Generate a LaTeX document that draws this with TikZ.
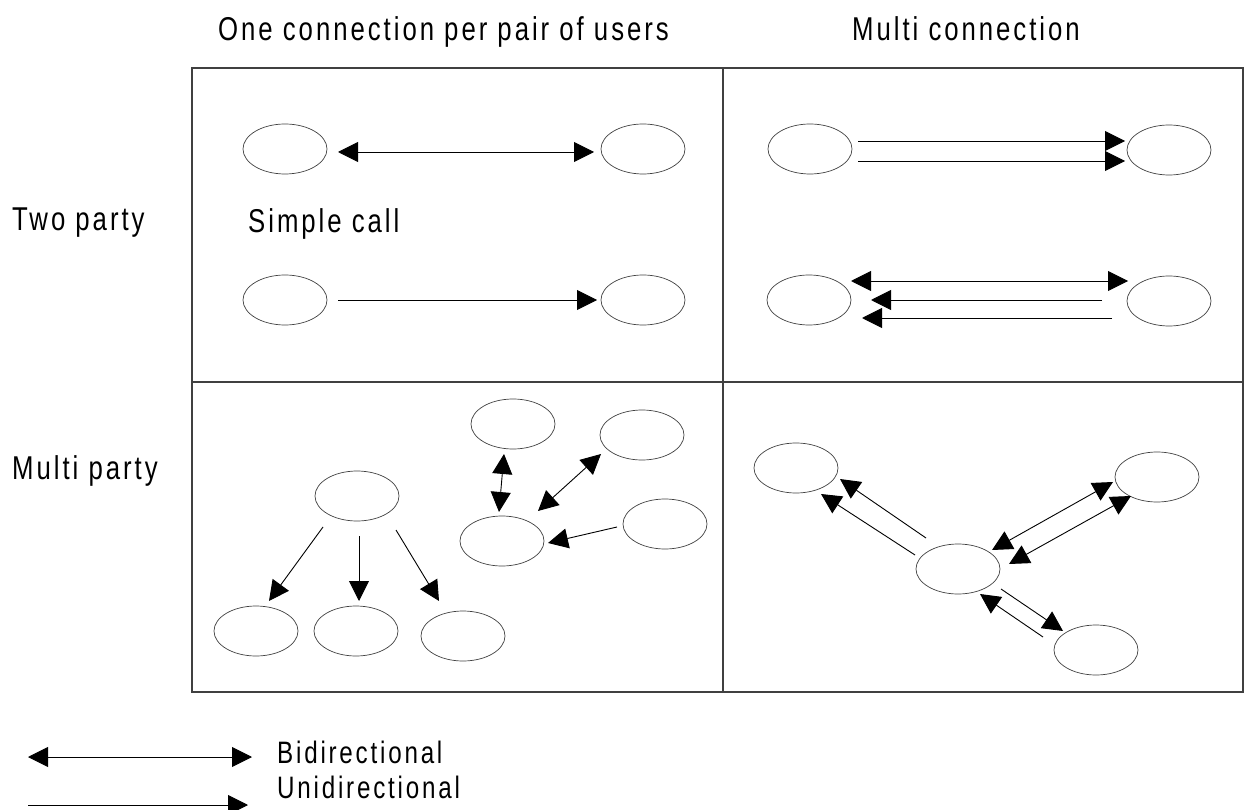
\documentclass[tikz,border=0pt]{standalone}
\usepackage{fontspec}
\setmainfont{Liberation Sans}
\newfontfamily\labfont[FakeStretch=0.78,LetterSpace=9]{Liberation Sans}
\usetikzlibrary{arrows.meta,shapes.geometric}

\begin{document}
\begin{tikzpicture}[x=1pt,y=-1pt,
  user/.style={draw=black!75, line width=0.7pt, ellipse,
    minimum width=84pt, minimum height=50pt, inner sep=0pt},
  link/.style={line width=0.9pt},
  uni/.style={link, -{Triangle[length=20pt,width=20pt]}},
  bi/.style={link, {Triangle[length=20pt,width=20pt]}-{Triangle[length=20pt,width=20pt]}},
  lbl/.style={anchor=base west, inner sep=0pt,
    font={\labfont\fontsize{33}{38}\selectfont}},
  key/.style={anchor=base west, inner sep=0pt,
    font={\labfont\fontsize{31}{35}\selectfont}},
  grid/.style={line width=1.4pt, draw=black!75}]

\useasboundingbox (0,0) rectangle (1245,810);

% table frame
\draw[grid] (192,68) rectangle (1243,692);
\draw[grid] (723,68) -- (723,692);
\draw[grid] (192,382) -- (1243,382);

% headings
\node[lbl] (h1) at (218,41) {One connection per pair of users};
\node[lbl] (h2) at (852,41) {Multi connection};
\node[lbl] (r1) at (12,231) {Two party};
\node[lbl] (r2) at (12,479) {Multi party};
\node[lbl] (sc) at (248,233) {Simple call};

% two party, one connection
\node[user] (a1) at (285,149) {};
\node[user] (a2) at (643,149) {};
\node[user] (a3) at (285,300) {};
\node[user] (a4) at (643,300) {};
\draw[bi]  ([shift={(53,3)}]a1.center) -- ([shift={(-49,3)}]a2.center);
\draw[uni] ([shift={(53,0)}]a3.center) -- ([shift={(-46,0)}]a4.center);

% two party, multi connection
\node[user] (b1) at (810,149) {};
\node[user] (b2) at (1169,150) {};
\node[user] (b3) at (809,300) {};
\node[user] (b4) at (1169,301) {};
\draw[uni] ([shift={(48,-8)}]b1.center) -- ([shift={(-44,-9)}]b2.center);
\draw[uni] ([shift={(48,12)}]b1.center) -- ([shift={(-44,11)}]b2.center);
\draw[bi]  ([shift={(42,-19)}]b3.center) -- ([shift={(-41,-20)}]b4.center);
\draw[uni] ([shift={(-67,-1)}]b4.center) -- ([shift={(62,0)}]b3.center);
\draw[uni] ([shift={(-57,17)}]b4.center) -- ([shift={(53,18)}]b3.center);

% multi party, one connection per pair
\node[user] (c0) at (357,496) {};
\node[user] (c1) at (256,631) {};
\node[user] (c2) at (356,631) {};
\node[user] (c3) at (463,636) {};
\draw[uni] ([shift={(-34,31)}]c0.center) -- ([shift={(13,-30)}]c1.center);
\draw[uni] ([shift={(2,40)}]c0.center) -- ([shift={(3,-30)}]c2.center);
\draw[uni] ([shift={(39,34)}]c0.center) -- ([shift={(-24,-35)}]c3.center);

\node[user] (d1) at (513,424) {};
\node[user] (d2) at (642,435) {};
\node[user] (d3) at (502,541) {};
\node[user] (d4) at (665,524) {};
\draw[bi]  ([shift={(-9,30)}]d1.center) -- ([shift={(-3,-29)}]d3.center);
\draw[bi]  ([shift={(-41,19)}]d2.center) -- ([shift={(36,-30)}]d3.center);
\draw[uni] ([shift={(-48,3)}]d4.center) -- ([shift={(46,2)}]d3.center);

% multi party, multi connection
\node[user] (f0) at (958,569) {};
\node[user] (f1) at (796,468) {};
\node[user] (f2) at (1157,477) {};
\node[user] (f3) at (1096,650) {};
\draw[uni] ([shift={(-32,-31)}]f0.center) -- ([shift={(44,11)}]f1.center);
\draw[uni] ([shift={(-43,-14)}]f0.center) -- ([shift={(25,26)}]f1.center);
\draw[bi]  ([shift={(34,-19)}]f0.center) -- ([shift={(-44,5)}]f2.center);
\draw[bi]  ([shift={(51,-5)}]f0.center) -- ([shift={(-26,19)}]f2.center);
\draw[uni] ([shift={(43,20)}]f0.center) -- ([shift={(-33,-19)}]f3.center);
\draw[uni] ([shift={(-53,-13)}]f3.center) -- ([shift={(22,25)}]f0.center);

% legend
\node[key] (lb) at (277,763) {Bidirectional};
\node[key] (lu) at (277,798) {Unidirectional};
\coordinate (lb0) at (28,757);
\coordinate (lb1) at (252,757);
\coordinate (lu0) at (28,805);
\coordinate (lu1) at (248,805);
\draw[bi]  (lb0) -- (lb1);
\draw[uni] (lu0) -- (lu1);

\end{tikzpicture}
\end{document}
